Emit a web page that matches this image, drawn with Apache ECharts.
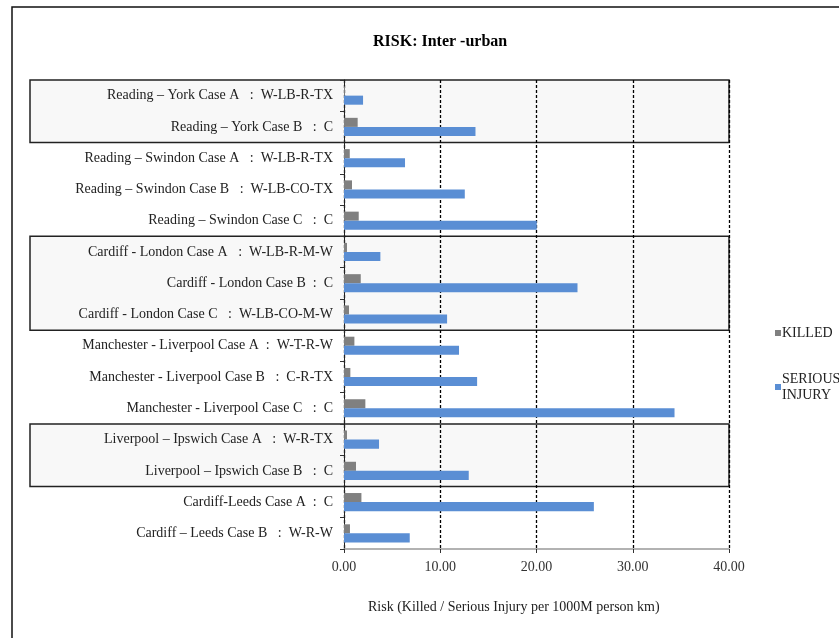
<!DOCTYPE html>
<html>
<head>
<meta charset="utf-8">
<script src="https://cdn.jsdelivr.net/npm/echarts@6/dist/echarts.min.js"></script>
<style>
  html, body { margin: 0; padding: 0; background: #ffffff; }
  #chart { width: 839px; height: 638px; }
</style>
</head>
<body>
<div id="chart"></div>
<script>
// Route cases (top to bottom)
const categories = [
  'Reading \u2013 York Case A   :  W-LB-R-TX',
  'Reading \u2013 York Case B   :  C',
  'Reading \u2013 Swindon Case A   :  W-LB-R-TX',
  'Reading \u2013 Swindon Case B   :  W-LB-CO-TX',
  'Reading \u2013 Swindon Case C   :  C',
  'Cardiff - London Case A   :  W-LB-R-M-W',
  'Cardiff - London Case B  :  C',
  'Cardiff - London Case C   :  W-LB-CO-M-W',
  'Manchester - Liverpool Case A  :  W-T-R-W',
  'Manchester - Liverpool Case B   :  C-R-TX',
  'Manchester - Liverpool Case C   :  C',
  'Liverpool \u2013 Ipswich Case A   :  W-R-TX',
  'Liverpool \u2013 Ipswich Case B   :  C',
  'Cardiff-Leeds Case A  :  C',
  'Cardiff \u2013 Leeds Case B   :  W-R-W'
];

// Risk per 1000M person km
const killed = [0.10, 1.42, 0.60, 0.83, 1.53, 0.31, 1.74, 0.52, 1.08, 0.66, 2.22, 0.31, 1.25, 1.81, 0.62];
const seriousInjury = [1.98, 13.66, 6.34, 12.55, 20.03, 3.78, 24.26, 10.71, 11.95, 13.83, 34.34, 3.64, 12.96, 25.96, 6.83];

// x-axis ticks
const xMin = 0;
const xMax = 40;
const xStep = 10;

// Highlighted route groups (first and last category index of each box)
const groupStart = [0, 5, 11];
const groupEnd = [1, 7, 12];

const serif = '"Liberation Serif", "Times New Roman", serif';

const chart = echarts.init(document.getElementById('chart'), null, { renderer: 'canvas' });

chart.setOption({
  animation: false,
  backgroundColor: '#ffffff',
  title: {
    text: 'RISK: Inter -urban',
    left: 368,
    top: 29,
    textStyle: { fontFamily: serif, fontSize: 16, fontWeight: 'bold', color: '#000' }
  },
  legend: {
    orient: 'vertical',
    left: 770,
    top: 320,
    itemWidth: 6,
    itemHeight: 6,
    itemGap: 22,
    icon: 'rect',
    formatter: name => name.replace(' ', '\n'),
    textStyle: { fontFamily: serif, fontSize: 14, color: '#222', lineHeight: 16, padding: [0, 0, 0, -4] },
    data: [
      { name: 'KILLED' },
      { name: 'SERIOUS INJURY', textStyle: { padding: [16, 0, 0, -4] } }
    ]
  },
  grid: { left: 344, top: 80, width: 385, height: 469, containLabel: false },
  xAxis: {
    type: 'value',
    min: xMin,
    max: xMax,
    interval: xStep,
    axisLine: { show: true, lineStyle: { color: '#999', width: 1.5 } },
    axisTick: { show: true, length: 4, lineStyle: { color: '#333' } },
    splitLine: { show: true, lineStyle: { color: '#000', type: [3, 2], width: 1.3 } },
    axisLabel: {
      margin: 11,
      fontFamily: serif,
      fontSize: 14,
      color: '#333',
      formatter: v => v.toFixed(2)
    }
  },
  yAxis: {
    type: 'category',
    inverse: true,
    data: categories,
    axisLine: { show: true, lineStyle: { color: '#222', width: 1 } },
    axisTick: { show: true, length: 4, lineStyle: { color: '#333' } },
    axisLabel: { margin: 11, fontFamily: serif, fontSize: 14, color: '#222' }
  },
  series: [
    {
      type: 'custom',
      name: 'groups',
      z: -1,
      silent: true,
      clip: false,
      data: groupStart.map((s, i) => [s, groupEnd[i]]),
      encode: { y: [0, 1] },
      renderItem: function (params, api) {
        const cs = params.coordSys;
        const band = api.size([0, 1])[1];
        const y0 = api.coord([0, api.value(0)])[1] - band / 2;
        const y1 = api.coord([0, api.value(1)])[1] + band / 2;
        const x0 = 30;
        const x1 = cs.x + cs.width;
        return {
          type: 'rect',
          shape: { x: x0, y: y0, width: x1 - x0, height: y1 - y0 },
          style: { fill: '#f8f8f8', stroke: '#222', lineWidth: 1.5 }
        };
      }
    },
    {
      name: 'KILLED',
      type: 'bar',
      data: killed,
      barGap: '0%',
      barCategoryGap: '42%',
      itemStyle: { color: '#808080' }
    },
    {
      name: 'SERIOUS INJURY',
      type: 'bar',
      data: seriousInjury,
      barGap: '0%',
      barCategoryGap: '42%',
      itemStyle: { color: '#5a8ed4' }
    }
  ],
  graphic: [
    {
      type: 'rect',
      silent: true,
      z: 100,
      shape: { x: 12, y: 7, width: 900, height: 700 },
      style: { fill: 'none', stroke: '#111', lineWidth: 1.5 }
    },
    {
      type: 'text',
      left: 368,
      top: 600,
      silent: true,
      style: {
        text: 'Risk (Killed / Serious Injury per 1000M person km)',
        font: '14px ' + serif,
        fill: '#222'
      }
    }
  ]
});
</script>
</body>
</html>
